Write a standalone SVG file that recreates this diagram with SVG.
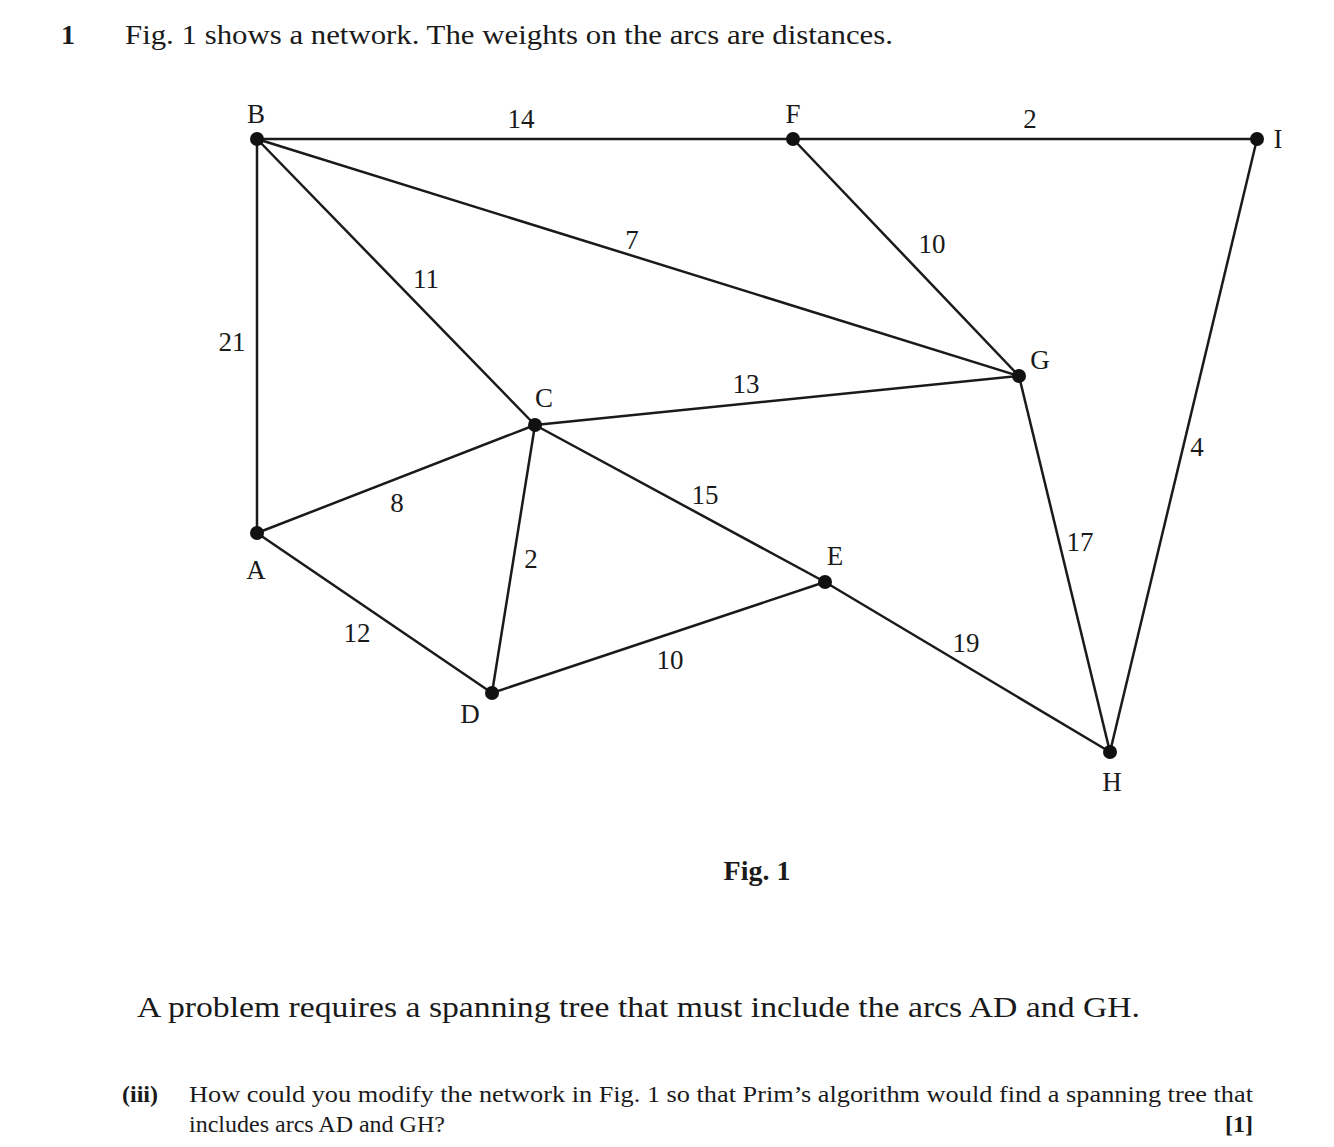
<svg xmlns="http://www.w3.org/2000/svg" width="1334" height="1147" viewBox="0 0 1334 1147" font-family="'Times New Roman', 'Liberation Serif', Tinos, serif">
<style>
text{font-family:"Times New Roman","Liberation Serif",Tinos,serif;fill:#1a1a1a}
.lbl{font-size:27px;text-anchor:middle}
.edge{stroke:#1a1a1a;stroke-width:2.5;fill:none}
.node{fill:#111}
</style>
<rect width="1334" height="1147" fill="#fff"/>
<text x="61" y="44" font-size="28" font-weight="bold">1</text>
<text x="125" y="44" font-size="28" textLength="768" lengthAdjust="spacingAndGlyphs">Fig. 1 shows a network. The weights on the arcs are distances.</text>
<g id="connectors">
<line class="edge" x1="257" y1="139" x2="793" y2="139"/>
<line class="edge" x1="793" y1="139" x2="1257" y2="139"/>
<line class="edge" x1="257" y1="139" x2="257" y2="533"/>
<line class="edge" x1="257" y1="139" x2="535" y2="425"/>
<line class="edge" x1="257" y1="139" x2="1019" y2="376"/>
<line class="edge" x1="793" y1="139" x2="1019" y2="376"/>
<line class="edge" x1="535" y1="425" x2="1019" y2="376"/>
<line class="edge" x1="535" y1="425" x2="257" y2="533"/>
<line class="edge" x1="535" y1="425" x2="492" y2="693"/>
<line class="edge" x1="535" y1="425" x2="825" y2="582"/>
<line class="edge" x1="257" y1="533" x2="492" y2="693"/>
<line class="edge" x1="492" y1="693" x2="825" y2="582"/>
<line class="edge" x1="825" y1="582" x2="1110" y2="752"/>
<line class="edge" x1="1019" y1="376" x2="1110" y2="752"/>
<line class="edge" x1="1257" y1="139" x2="1110" y2="752"/>
<text class="lbl" x="521" y="128">14</text>
<text class="lbl" x="1030" y="128">2</text>
<text class="lbl" x="632" y="249">7</text>
<text class="lbl" x="932" y="253">10</text>
<text class="lbl" x="426" y="288">11</text>
<text class="lbl" x="232" y="351">21</text>
<text class="lbl" x="746" y="393">13</text>
<text class="lbl" x="1197" y="456">4</text>
<text class="lbl" x="397" y="512">8</text>
<text class="lbl" x="705" y="504">15</text>
<text class="lbl" x="531" y="568">2</text>
<text class="lbl" x="1080" y="551">17</text>
<text class="lbl" x="357" y="642">12</text>
<text class="lbl" x="966" y="652">19</text>
<text class="lbl" x="670" y="669">10</text>
</g>
<g id="node-B"><circle class="node" cx="257" cy="139" r="7"/><text class="lbl" x="256" y="123">B</text></g>
<g id="node-F"><circle class="node" cx="793" cy="139" r="7"/><text class="lbl" x="793" y="123">F</text></g>
<g id="node-I"><circle class="node" cx="1257" cy="139" r="7"/><text class="lbl" x="1278" y="148">I</text></g>
<g id="node-G"><circle class="node" cx="1019" cy="376" r="7"/><text class="lbl" x="1040" y="369">G</text></g>
<g id="node-C"><circle class="node" cx="535" cy="425" r="7"/><text class="lbl" x="544" y="407">C</text></g>
<g id="node-A"><circle class="node" cx="257" cy="533" r="7"/><text class="lbl" x="256" y="579">A</text></g>
<g id="node-E"><circle class="node" cx="825" cy="582" r="7"/><text class="lbl" x="835" y="565">E</text></g>
<g id="node-D"><circle class="node" cx="492" cy="693" r="7"/><text class="lbl" x="470" y="723">D</text></g>
<g id="node-H"><circle class="node" cx="1110" cy="752" r="7"/><text class="lbl" x="1112" y="791">H</text></g>
<text x="757" y="880" font-size="28" font-weight="bold" text-anchor="middle">Fig. 1</text>
<text x="137" y="1017" font-size="30" textLength="1003" lengthAdjust="spacingAndGlyphs">A problem requires a spanning tree that must include the arcs AD and GH.</text>
<text x="122" y="1102" font-size="24" font-weight="bold">(iii)</text>
<text x="189" y="1102" font-size="24" textLength="1064" lengthAdjust="spacingAndGlyphs">How could you modify the network in Fig. 1 so that Prim’s algorithm would find a spanning tree that</text>
<text x="189" y="1132" font-size="24">includes arcs AD and GH?</text>
<text x="1253" y="1132" font-size="24" font-weight="bold" text-anchor="end">[1]</text>
</svg>
